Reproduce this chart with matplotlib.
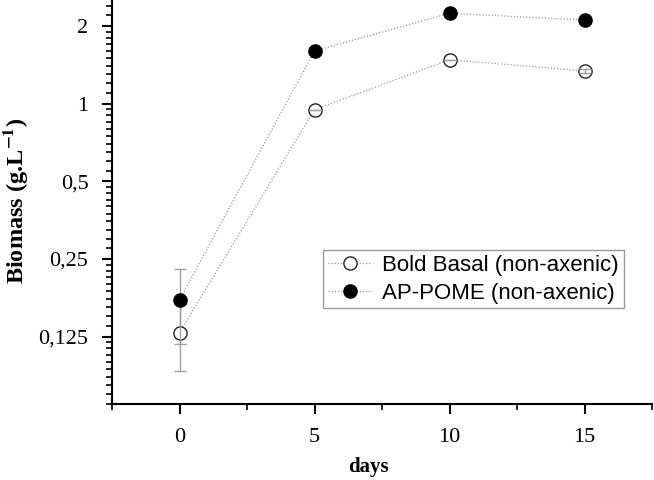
import matplotlib
matplotlib.use("Agg")
import matplotlib.pyplot as plt
from matplotlib.ticker import NullFormatter
import numpy as np

days = [0, 5, 10, 15]
boldBasal = [0.1295, 0.948, 1.48, 1.34]
boldBasalErr = [0.0375, 0.0, 0.0, 0.02]
apPome = [0.1735, 1.60, 2.24, 2.11]
apPomeErr = [0.056, 0.0, 0.0, 0.0]

yMajor = [0.125, 0.25, 0.5, 1, 2]
yLabels = ["0,125", "0,25", "0,5", "1", "2"]
xMajor = [0, 5, 10, 15]
xMinor = [-2.5, 2.5, 7.5, 12.5, 17.5]

plt.rcParams['font.family'] = ['Liberation Serif', 'DejaVu Serif']
plt.rcParams['mathtext.fontset'] = 'stix'

fig = plt.figure(figsize=[6.54, 4.8], dpi=100)
ax = fig.add_axes([112/654, 76/480, 540/654, 403/480])

lineStyle = dict(color="#9a9a9a", linestyle=(0, (1, 1.5)), linewidth=0.9)

# connecting lines
ax.plot(days, boldBasal, zorder=1, **lineStyle)
ax.plot(days, apPome, zorder=1, **lineStyle)

# error bars
ax.errorbar(days, apPome, yerr=apPomeErr, fmt="none", ecolor="#a0a0a0",
            elinewidth=1.0, capsize=4, capthick=1.0, zorder=2)
ax.plot(days, boldBasal, "o", markersize=9.5, markerfacecolor="white",
        markeredgecolor="#222222", markeredgewidth=1.0, zorder=3)
ax.errorbar(days, boldBasal, yerr=boldBasalErr, fmt="none", ecolor="#a0a0a0",
            elinewidth=1.0, capsize=4, capthick=1.0, zorder=4)
ax.plot(days, apPome, "o", markersize=9.5, markerfacecolor="black",
        markeredgecolor="black", markeredgewidth=1.0, zorder=5)

# legend handles
h1, = ax.plot([], [], marker="o", markersize=9.5, markerfacecolor="white",
              markeredgecolor="#222222", **lineStyle)
h2, = ax.plot([], [], marker="o", markersize=9.5, markerfacecolor="black",
              markeredgecolor="black", **lineStyle)
leg = ax.legend([h1, h2], ["Bold Basal (non-axenic)", "AP-POME (non-axenic)"],
                loc="upper left", bbox_to_anchor=(211/540, (404-250)/403),
                prop={"family": "Liberation Sans", "size": 16},
                frameon=True, fancybox=False, edgecolor="#808080",
                handlelength=2.0, handletextpad=0.45, borderpad=0.22,
                labelspacing=0.3, borderaxespad=0)
leg.get_frame().set_linewidth(1.0)

ax.set_yscale("log", base=2)
ax.set_ylim(0.0685, 2.5)
ax.set_xlim(-2.5, 17.5)

ax.set_yticks(yMajor)
ax.set_yticklabels(yLabels)
minorY = []
for m in [0.0625] + yMajor:
    for k in range(1, 10):
        v = m * (1 + k / 10.0)
        if 0.0685 <= v <= 2.5:
            minorY.append(v)
ax.set_yticks(minorY, minor=True)
ax.yaxis.set_minor_formatter(NullFormatter())
ax.set_xticks(xMajor)
ax.set_xticks(xMinor, minor=True)
ax.xaxis.set_minor_formatter(NullFormatter())

ax.spines["top"].set_visible(False)
ax.spines["right"].set_visible(False)
ax.spines["left"].set_linewidth(1.5)
ax.spines["bottom"].set_linewidth(1.5)

ax.tick_params(axis="both", which="major", direction="out", length=7, width=1.5,
               labelsize=16)
ax.tick_params(axis="both", which="minor", direction="out", length=4, width=1.2)
ax.tick_params(axis="x", which="major", pad=10)
ax.tick_params(axis="y", which="major", pad=10)

ax.set_xlabel("days", fontsize=15, fontweight="bold")
ax.xaxis.set_label_coords((368-112)/540, -(457-404)/403)
ax.set_ylabel(r"Biomass (g.L$^{\mathbf{-1}}$)", fontsize=17.5, fontweight="bold")
ax.yaxis.set_label_coords(-(112-30)/540, (404-201)/403)

fig.savefig("out.png", dpi=100)
